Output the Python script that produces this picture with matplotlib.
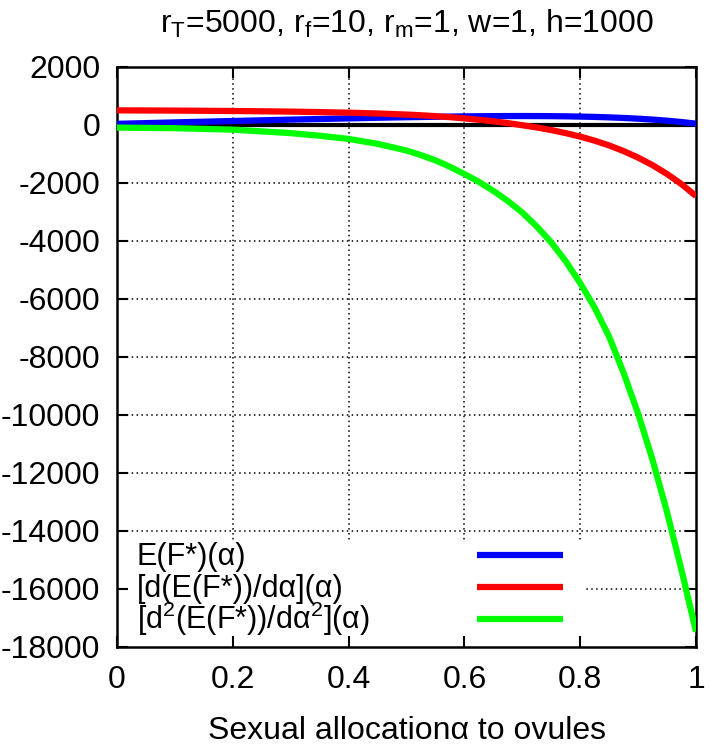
import matplotlib
matplotlib.use("Agg")
import matplotlib.pyplot as plt
from matplotlib.patches import Rectangle

# values (alpha = sexual allocation to ovules)
alpha = [0, 0.1, 0.2, 0.3, 0.35, 0.4, 0.45, 0.5, 0.525, 0.55, 0.575, 0.6,
         0.625, 0.65, 0.675, 0.7, 0.725, 0.75, 0.775, 0.8, 0.825, 0.85,
         0.875, 0.9, 0.925, 0.95, 0.975, 1.0]
ef = [40, 90, 138, 185, 207, 228, 249, 268, 276, 284, 291, 297,
      302, 306, 308, 309, 308, 305, 299, 290, 279, 263,
      243, 218, 187, 149, 102, 46]
d1 = [505, 497, 483, 462, 445, 425, 397, 360, 335, 305, 270, 228,
      182, 128, 65, -8, -85, -175, -280, -400, -540, -705,
      -900, -1125, -1385, -1690, -2040, -2450]
d2 = [-90, -110, -160, -280, -370, -480, -650, -880, -1040, -1220, -1440, -1690,
      -1960, -2270, -2620, -3020, -3500, -4050, -4700, -5450, -6300, -7300,
      -8550, -9950, -11550, -13350, -15350, -17470]

labels = ['E(F*)(α)', '[d(E(F*))/dα](α)', '[d$^2$(E(F*))/dα$^2$](α)']
colors = ['#0000ff', '#ff0000', '#00ff00']

xticks = [0, 0.2, 0.4, 0.6, 0.8, 1]
yticks = list(range(-18000, 2001, 2000))

plt.rcParams['font.family'] = ['Liberation Sans', 'DejaVu Sans']
plt.rcParams['mathtext.default'] = 'regular'
plt.rcParams['axes.unicode_minus'] = False
fs = 23

fig = plt.figure(figsize=(7.11, 7.45), dpi=100)
ax = fig.add_axes([117/711, 1-647/745, 579/711, 580/745])
ax.set_xlim(0, 1)
ax.set_ylim(-18000, 2000)

# dotted grid, drawn by hand so the legend box can hide it but not the ticks
for xt in xticks[1:-1]:
    ax.axvline(xt, color='k', lw=1.1, ls=(0, (1, 2.2)), zorder=0.5)
for yt in yticks[1:-1]:
    ax.axhline(yt, color='k', lw=1.1, ls=(0, (1, 2.2)), zorder=0.5)

# white legend background
ax.add_patch(Rectangle((0, 0), 0.805, 0.185, transform=ax.transAxes,
                       facecolor='white', edgecolor='none', zorder=1))

ax.axhline(0, color='k', lw=3, zorder=2)
ax.plot(alpha, ef, color=colors[0], lw=4.5, zorder=3, solid_capstyle='butt')
ax.plot(alpha, d1, color=colors[1], lw=4.5, zorder=3, solid_capstyle='butt')
ax.plot(alpha, d2, color=colors[2], lw=4.5, zorder=3, solid_capstyle='butt')

# gnuplot-style key: text on the left, sample line on the right
rows = [0.1584, 0.1031, 0.0489]
for lab, col, ry in zip(labels, colors, rows):
    ax.plot([0.622, 0.771], [ry, ry], color=col, lw=4.5, transform=ax.transAxes,
            zorder=3, solid_capstyle='butt')
    ax.text(0.0345, ry - 0.0173, lab, transform=ax.transAxes, fontsize=22,
            ha='left', va='baseline', zorder=4)

ax.set_xticks(xticks)
ax.set_xticklabels(['0', '0.2', '0.4', '0.6', '0.8', '1'])
ax.set_yticks(yticks)
ax.tick_params(direction='in', top=True, right=True, length=8, width=1.5,
               labelsize=fs)
ax.tick_params(axis='x', pad=13)
ax.tick_params(axis='y', pad=12)
for s in ax.spines.values():
    s.set_linewidth(1.8)

ax.set_xlabel('Sexual allocationα to ovules', fontsize=fs, labelpad=15)
fig.text(407/711, 1-33/745, 'r$_T$=5000, r$_f$=10, r$_m$=1, w=1, h=1000',
         fontsize=fs, ha='center', va='baseline')

fig.savefig('out.png', dpi=100)
